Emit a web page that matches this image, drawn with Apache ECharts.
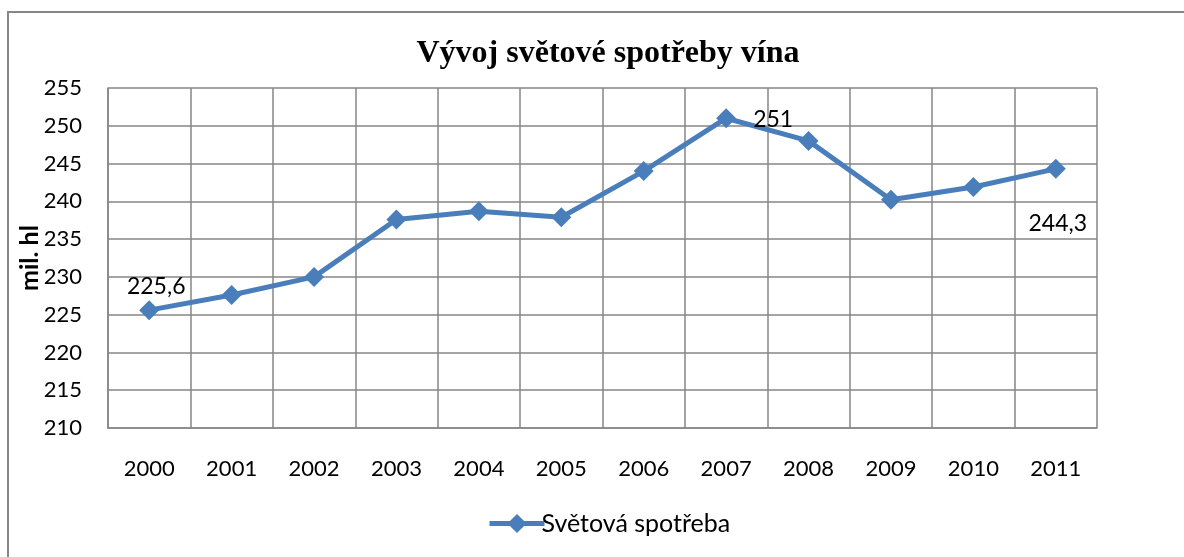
<!DOCTYPE html>
<html>
<head>
<meta charset="utf-8">
<script src="https://cdn.jsdelivr.net/npm/echarts@6/dist/echarts.min.js"></script>
<style>
  html, body { margin: 0; padding: 0; background: #fff; }
  #chart { width: 1184px; height: 557px; }
</style>
</head>
<body>
<div id="chart"></div>
<script>
const years = ["2000", "2001", "2002", "2003", "2004", "2005", "2006", "2007", "2008", "2009", "2010", "2011"];
const consumption = [225.6, 227.6, 230.0, 237.6, 238.7, 237.9, 244.0, 251.0, 248.0, 240.2, 241.9, 244.3];
// only these points carry a data label in the original
const labelled = { 0: "top", 7: "right", 11: "bottom" };

const blue = "#4a7ebb";
const grey = "#868686";
const font = "Lato, 'Noto Sans', sans-serif";

const labelTweaks = {
  top: { distance: 2, offset: [7, 0] },
  right: { distance: 17, offset: [0, 1] },
  bottom: { distance: 33, offset: [2, 0] },
};

const seriesData = consumption.map((v, i) => {
  if (!(i in labelled)) return v;
  const pos = labelled[i];
  return {
    value: v,
    label: {
      show: true,
      position: pos,
      distance: labelTweaks[pos].distance,
      offset: labelTweaks[pos].offset,
      formatter: (p) => String(p.value).replace(".", ","),
    },
  };
});

const chart = echarts.init(document.getElementById("chart"));

chart.setOption({
  animation: false,
  title: {
    text: "Vývoj světové spotřeby vína",
    left: 603,
    textAlign: "center",
    top: 33,
    textStyle: {
      fontFamily: "'Liberation Serif', 'DejaVu Serif', serif",
      fontWeight: "bold",
      fontSize: 32,
      color: "#000",
    },
  },
  graphic: [
    {
      type: "rect",
      shape: { x: 8, y: 12, width: 1300, height: 700 },
      style: { fill: "none", stroke: grey, lineWidth: 2 },
      silent: true,
    },
  ],
  legend: {
    top: 506,
    left: 482,
    itemWidth: 55,
    itemHeight: 24,
    itemGap: 4,
    lineStyle: { width: 5 },
    textStyle: { fontFamily: font, fontSize: 25, color: "#000", padding: [0, 0, 0, -8] },
    data: ["Světová spotřeba"],
  },
  grid: { left: 108, right: 87, top: 88, bottom: 129 },
  xAxis: {
    type: "category",
    data: years,
    boundaryGap: true,
    axisLine: { show: true, lineStyle: { color: grey, width: 1.5 } },
    axisTick: { show: false },
    axisLabel: { margin: 30, fontFamily: font, fontSize: 22, color: "#000", interval: 0 },
    splitLine: { show: true, interval: 0, lineStyle: { color: grey, width: 1.5 } },
  },
  yAxis: {
    type: "value",
    min: 210,
    max: 255,
    interval: 5,
    name: "mil. hl",
    nameLocation: "middle",
    nameGap: 66,
    nameRotate: 90,
    nameMoveOverlap: false,
    nameTextStyle: { fontFamily: font, fontWeight: "bold", fontSize: 25, color: "#000" },
    axisLine: { show: true, lineStyle: { color: grey, width: 1.5 } },
    axisTick: { show: false },
    axisLabel: { margin: 26, fontFamily: font, fontSize: 22, color: "#000" },
    splitLine: { show: true, lineStyle: { color: grey, width: 1.5 } },
  },
  series: [
    {
      name: "Světová spotřeba",
      type: "line",
      data: seriesData,
      symbol: "diamond",
      symbolSize: 20,
      lineStyle: { color: blue, width: 5 },
      itemStyle: { color: blue },
      label: { fontFamily: font, fontSize: 23, color: "#000" },
      z: 3,
    },
  ],
});

window.addEventListener("resize", () => chart.resize());
</script>
</body>
</html>
